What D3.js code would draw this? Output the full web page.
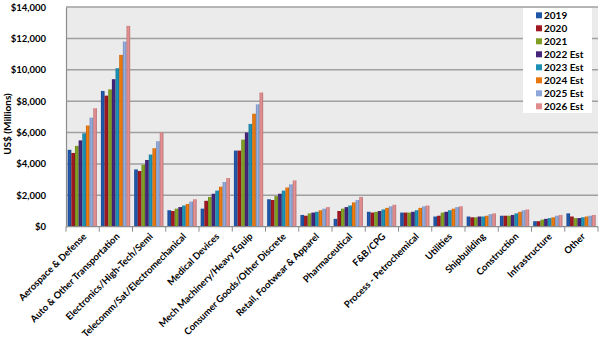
<!DOCTYPE html>
<meta charset="utf-8">
<title>Market by Industry</title>
<style>

body {
  margin: 0;
  background: #fff;
}

text {
  font-family: Lato, "Open Sans", sans-serif;
  font-weight: bold;
  fill: #000;
}

</style>
<body>
<script src="https://cdn.jsdelivr.net/npm/d3@7"></script>
<script>

var categories = ["Aerospace & Defense", "Auto & Other Transportation", "Electronics/High-Tech/Semi",
  "Telecomm/Sat/Electromechanical", "Medical Devices", "Mech Machinery/Heavy Equip",
  "Consumer Goods/Other Discrete", "Retail, Footwear & Apparel", "Pharmaceutical", "F&B/CPG",
  "Process - Petrochemical", "Utilities", "Shipbuilding", "Construction", "Infrastructure", "Other"];

var seriesNames = ["2019", "2020", "2021", "2022 Est", "2023 Est", "2024 Est", "2025 Est", "2026 Est"];

var colors = ["#1f56a8", "#a01820", "#7f9e22", "#452479", "#1c90b4", "#e8780e", "#8ea7d8", "#e08c8e"];

// one row per category, one value per series (US$ millions)
var values = [
  [4900, 4700, 5150, 5500, 5950, 6450, 6950, 7550],
  [8650, 8350, 8750, 9400, 10100, 10950, 11800, 12800],
  [3650, 3550, 3950, 4250, 4600, 5000, 5450, 6000],
  [1050, 1000, 1150, 1250, 1350, 1450, 1600, 1750],
  [1150, 1650, 1900, 2100, 2300, 2550, 2850, 3100],
  [4850, 4850, 5550, 6000, 6550, 7200, 7800, 8550],
  [1750, 1700, 1950, 2100, 2300, 2500, 2700, 2950],
  [750, 700, 850, 900, 950, 1050, 1150, 1250],
  [500, 1000, 1150, 1250, 1350, 1550, 1700, 1900],
  [950, 900, 950, 1000, 1100, 1200, 1300, 1400],
  [900, 900, 900, 950, 1050, 1200, 1300, 1350],
  [650, 700, 900, 950, 1050, 1150, 1250, 1300],
  [650, 600, 600, 650, 650, 700, 800, 850],
  [700, 700, 700, 750, 850, 950, 1050, 1100],
  [350, 350, 450, 500, 550, 600, 700, 750],
  [850, 650, 550, 550, 600, 650, 700, 750]
];

var yTicks = [0, 2000, 4000, 6000, 8000, 10000, 12000, 14000];

var w = 600,
    h = 356,
    plotLeft = 66,
    plotRight = 598,
    plotTop = 7,
    plotBottom = 226.7;

var svg = d3.select("body").append("svg")
    .attr("width", w)
    .attr("height", h);

var defs = svg.append("defs");

colors.forEach(function(c, i) {
  var g = defs.append("linearGradient")
      .attr("id", "g" + i)
      .attr("x1", 0).attr("x2", 1).attr("y1", 0).attr("y2", 0);
  g.append("stop").attr("offset", 0).attr("stop-color", d3.color(c).darker(0.5));
  g.append("stop").attr("offset", 0.45).attr("stop-color", d3.color(c).brighter(0.15));
  g.append("stop").attr("offset", 1).attr("stop-color", d3.color(c).darker(0.6));
});

var x0 = d3.scaleBand()
    .domain(categories)
    .range([plotLeft, plotRight]);

var x1 = d3.scaleBand()
    .domain(seriesNames)
    .range([x0.bandwidth() * 0.05, x0.bandwidth() * 0.93]);

var y = d3.scaleLinear()
    .domain([0, 14000])
    .range([plotBottom, plotTop]);

// plot area
svg.append("rect")
    .attr("x", plotLeft)
    .attr("y", plotTop)
    .attr("width", plotRight - plotLeft)
    .attr("height", plotBottom - plotTop)
    .attr("fill", "#ebebeb");

svg.append("g")
  .selectAll("line")
    .data(yTicks.slice(1))
  .enter().append("line")
    .attr("x1", plotLeft)
    .attr("x2", plotRight)
    .attr("y1", y)
    .attr("y2", y)
    .attr("stroke", "#a0a0a0")
    .attr("stroke-width", 1.5);

// bars
svg.append("g")
  .selectAll("g")
    .data(values)
  .enter().append("g")
    .attr("transform", function(d, i) { return "translate(" + x0(categories[i]) + ",0)"; })
  .selectAll("rect")
    .data(function(d) { return d; })
  .enter().append("rect")
    .attr("x", function(d, i) { return x1(seriesNames[i]); })
    .attr("width", x1.bandwidth())
    .attr("y", y)
    .attr("height", function(d) { return y(0) - y(d); })
    .attr("fill", function(d, i) { return "url(#g" + i + ")"; });

// y axis
var yAxis = svg.append("g")
    .attr("transform", "translate(" + plotLeft + ",0)")
    .call(d3.axisLeft(y).tickValues(yTicks).tickSize(0).tickPadding(20)
      .tickFormat(function(d) { return "$" + d3.format(",")(d); }));

yAxis.select(".domain").attr("stroke", "#8c8c8c").attr("stroke-width", 1.2);
yAxis.selectAll("text").style("font-size", "9.5px");

// x axis
var xAxis = svg.append("g")
    .attr("transform", "translate(0," + plotBottom + ")");

xAxis.append("line")
    .attr("x1", plotLeft)
    .attr("x2", plotRight)
    .attr("stroke", "#8c8c8c")
    .attr("stroke-width", 1.2);

xAxis.selectAll(".tick")
    .data(categories.concat([null]))
  .enter().append("line")
    .attr("x1", function(d, i) { return plotLeft + i * x0.step(); })
    .attr("x2", function(d, i) { return plotLeft + i * x0.step(); })
    .attr("y1", 0)
    .attr("y2", 5)
    .attr("stroke", "#8c8c8c");

xAxis.selectAll("text")
    .data(categories)
  .enter().append("text")
    .attr("transform", function(d) {
      return "translate(" + (x0(d) + x0.bandwidth() / 2 + 2) + ",8)rotate(-45)";
    })
    .attr("text-anchor", "end")
    .attr("dy", "0.35em")
    .style("font-size", "9.5px")
    .text(function(d) { return d; });

// y title
svg.append("text")
    .attr("transform", "translate(11,124)rotate(-90)")
    .attr("text-anchor", "middle")
    .style("font-size", "10px")
    .text("US$ (Millions)");

// legend
var legend = svg.append("g")
    .attr("transform", "translate(523,8)");

legend.append("rect")
    .attr("width", 69)
    .attr("height", 105)
    .attr("fill", "#fff");

var item = legend.selectAll("g")
    .data(seriesNames)
  .enter().append("g")
    .attr("transform", function(d, i) { return "translate(13," + (7.3 + i * 13) + ")"; });

item.append("rect")
    .attr("x", 0)
    .attr("y", -3)
    .attr("width", 6)
    .attr("height", 6)
    .attr("fill", function(d, i) { return colors[i]; });

item.append("text")
    .attr("x", 8)
    .attr("dy", "0.35em")
    .style("font-size", "10px")
    .text(function(d) { return d; });

</script>
